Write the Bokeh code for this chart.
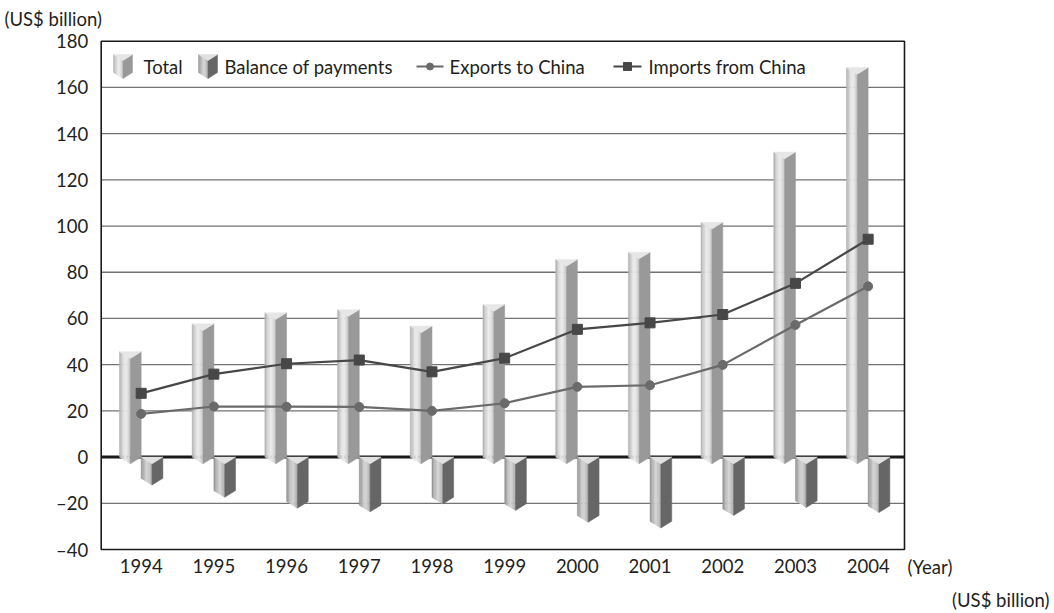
from bokeh.plotting import figure
from bokeh.models import Range1d, FixedTicker, Label, ColumnDataSource
from bokeh.embed import file_html
from bokeh.resources import INLINE

# ---------------- data ----------------
years = ["1994", "1995", "1996", "1997", "1998", "1999", "2000", "2001", "2002", "2003", "2004"]
total = [45.6, 57.7, 62.5, 63.8, 56.7, 66.0, 85.5, 88.7, 101.6, 132.0, 168.6]
balance = [-9.2, -14.5, -19.2, -20.8, -17.4, -20.2, -25.3, -27.8, -22.4, -18.9, -21.1]
exports = [18.7, 21.9, 21.8, 21.7, 20.0, 23.3, 30.4, 31.1, 39.9, 57.2, 73.9]
imports = [27.6, 35.9, 40.4, 42.0, 36.9, 42.8, 55.3, 58.1, 61.7, 75.2, 94.3]
y_ticks = [-40, -20, 0, 20, 40, 60, 80, 100, 120, 140, 160, 180]
series_names = ["Total", "Balance of payments", "Exports to China", "Imports from China"]

# ---------------- layout ----------------
W, H = 1050, 611
IL, IR, IT, IB = 100.7, 904.0, 40.7, 549.0   # chart box in canvas px
XA, XB = -0.55, 10.5                          # chart box data x
YA, YB = -40, 180                             # chart box data y
PX_X = (IR - IL) / (XB - XA)
PX_Y = (IB - IT) / (YB - YA)
X0, X1 = XA - IL / PX_X, XB + (W - IR) / PX_X
Y0, Y1 = YA - (H - IB) / PX_Y, YB + IT / PX_Y

def cx(px):  # canvas px -> data x
    return X0 + px / PX_X

def cy(px):  # canvas px -> data y
    return Y1 - px / PX_Y

FONT = "Lato"
FS = "18.5px"
TXT = "#231f20"

xs_idx = list(range(len(years)))

p = figure(width=W, height=H, x_range=Range1d(X0, X1), y_range=Range1d(Y0, Y1),
           output_backend="svg", toolbar_location=None,
           min_border_left=0, min_border_right=0, min_border_top=0, min_border_bottom=0)
p.background_fill_color = "white"
p.border_fill_color = "white"
p.outline_line_color = None
p.xgrid.visible = False
p.ygrid.visible = False

p.yaxis.ticker = FixedTicker(ticks=y_ticks)
p.yaxis.major_label_overrides = {t: ("\u2013" + str(-t) if t < 0 else str(t)) for t in y_ticks}
p.xaxis.ticker = FixedTicker(ticks=xs_idx)
p.xaxis.major_label_overrides = {i: y for i, y in enumerate(years)}
p.yaxis.fixed_location = XA
p.xaxis.fixed_location = YA
for ax in (p.xaxis, p.yaxis):
    ax.axis_line_color = None
    ax.major_tick_line_color = None
    ax.minor_tick_line_color = None
    ax.major_label_text_font = FONT
    ax.major_label_text_font_size = FS
    ax.major_label_text_color = TXT
p.yaxis.major_label_standoff = 7
p.xaxis.major_label_standoff = 3

# grid lines (inside the chart box only), zero line, box
grid_vals = [t for t in y_ticks if t not in (YA, YB, 0)]
p.segment(x0=[XA] * len(grid_vals), x1=[XB] * len(grid_vals), y0=grid_vals, y1=grid_vals,
          line_color="#737373", line_width=1.3)
p.segment(x0=[XA], x1=[XB], y0=[0], y1=[0], line_color="#1a1a1a", line_width=3)
p.quad(left=[XA], right=[XB], bottom=[YA], top=[YB], fill_color=None,
       line_color="#1a1a1a", line_width=1.6)

# ---------------- prisms ----------------
TOT_STRIPS = ["#b3b3b3", "#c6c6c6", "#d7d7d7", "#e3e3e3", "#eaeaea", "#e6e6e6", "#dbdbdb", "#cdcdcd"]
BAL_STRIPS = ["#979797", "#a9a9a9", "#bbbbbb", "#c9c9c9", "#d2d2d2", "#cdcdcd", "#c1c1c1", "#b2b2b2"]
TOT_RIGHT, BAL_RIGHT = "#999999", "#666666"
TOT_TOP, BAL_TOP = "#e6e6e6", "#e1e1e1"

BW = 21.7 / PX_X
D = 6.7 / PX_Y

pxs, pys, pcs = [], [], []

def prism(xl, w, ybot, ytop, d, strips, right, topc):
    xc = xl + w / 2
    xr = xl + w
    n = len(strips)
    for k in range(n):
        t0, t1 = k / n, (k + 1) / n
        xa, xb = xl + t0 * w / 2, xl + t1 * w / 2
        pxs.append([xa, xb, xb, xa])
        pys.append([ytop - t0 * d, ytop - t1 * d, ybot - t1 * d, ybot - t0 * d])
        pcs.append(strips[k])
    pxs.append([xc, xr, xr, xc])
    pys.append([ytop - d, ytop, ybot, ybot - d])
    pcs.append(right)
    pxs.append([xl, xr, xc])
    pys.append([ytop, ytop, ytop - d])
    pcs.append(topc)

for i, (t, b) in enumerate(zip(total, balance)):
    prism(i - BW, BW, 0, t, D, TOT_STRIPS, TOT_RIGHT, TOT_TOP)
    prism(i, BW, b, 0, D, BAL_STRIPS, BAL_RIGHT, BAL_TOP)

# legend prism icons
IW = 19 / PX_X
ID = 6 / PX_Y
prism(cx(113), IW, cy(72), cy(54), ID, TOT_STRIPS, TOT_RIGHT, TOT_TOP)
prism(cx(198), IW, cy(72), cy(54), ID, BAL_STRIPS, BAL_RIGHT, BAL_TOP)

src = ColumnDataSource(dict(xs=pxs, ys=pys, c=pcs))
p.patches(xs="xs", ys="ys", fill_color="c", line_color="c", line_width=0.5, source=src)

# ---------------- lines ----------------
EXP_C, IMP_C = "#6a6a6a", "#474747"
p.line(xs_idx, exports, line_color=EXP_C, line_width=2.2)
p.scatter(xs_idx, exports, marker="circle", size=9, fill_color=EXP_C, line_color=EXP_C)
p.line(xs_idx, imports, line_color=IMP_C, line_width=2.2)
p.scatter(xs_idx, imports, marker="square", size=10, fill_color=IMP_C, line_color=IMP_C)

# legend line icons
LY = cy(66)
p.line([cx(416), cx(443)], [LY, LY], line_color=EXP_C, line_width=2)
p.scatter([cx(429.5)], [LY], marker="circle", size=7, fill_color=EXP_C, line_color=EXP_C)
p.line([cx(613), cx(641)], [LY, LY], line_color=IMP_C, line_width=2)
p.scatter([cx(627)], [LY], marker="square", size=8, fill_color=IMP_C, line_color=IMP_C)

# ---------------- texts ----------------
def lab(x, y, text, align="left", baseline="middle"):
    p.add_layout(Label(x=x, y=y, text=text, text_font=FONT, text_font_size=FS,
                       text_color=TXT, text_align=align, text_baseline=baseline))

for px_, name in zip([143, 224, 449, 648], series_names):
    lab(cx(px_), LY, name)

lab(cx(4), cy(18), "(US$ billion)")
lab(cx(907), cy(566), "(Year)")
lab(cx(1049), cy(599), "(US$ billion)", align="right")

open("out.html", "w").write(file_html(p, INLINE))
